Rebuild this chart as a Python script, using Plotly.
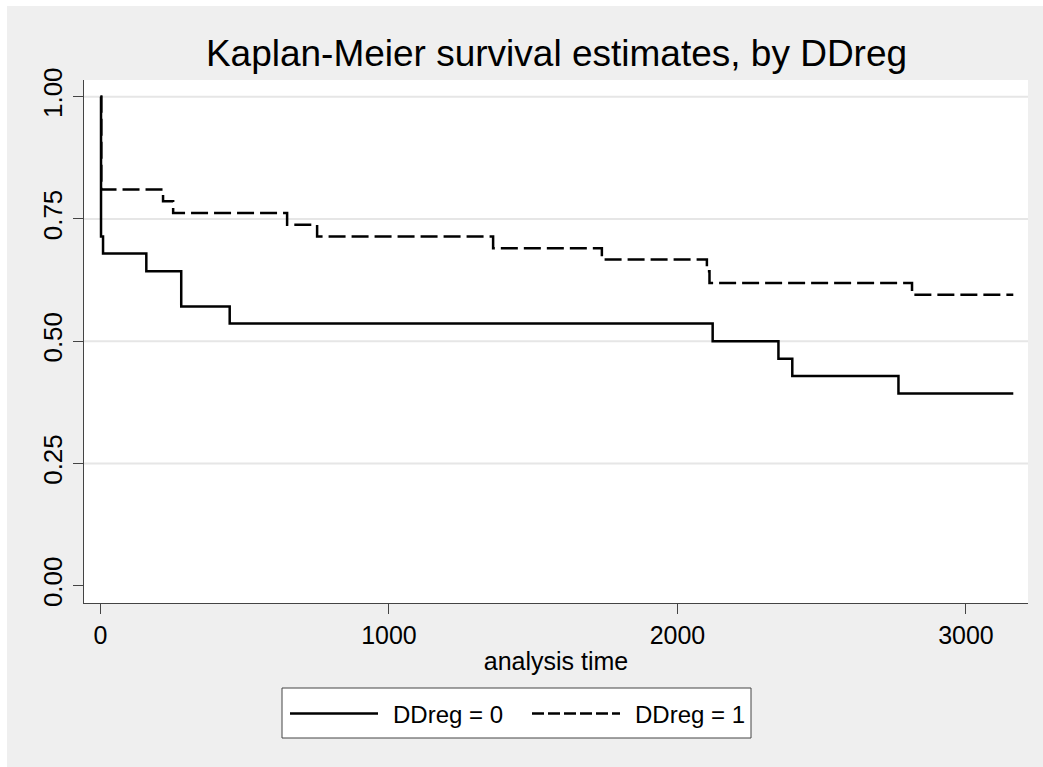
import plotly.graph_objects as go

# ---- data (Kaplan-Meier step estimates) ----
time_dd0 = [0, 2, 9, 159, 280, 448, 2122, 2350, 2398, 2766, 3164]
surv_dd0 = [1.0, 0.714, 0.679, 0.643, 0.571, 0.536, 0.500, 0.464, 0.429, 0.393, 0.393]

time_dd1 = [0, 3, 217, 252, 647, 751, 1361, 1738, 2102, 2111, 2813, 3164]
surv_dd1 = [1.0, 0.810, 0.786, 0.762, 0.738, 0.714, 0.690, 0.667, 0.643, 0.619, 0.595, 0.595]

name_dd0 = "DDreg = 0"
name_dd1 = "DDreg = 1"

y_tickvals = [0, 0.25, 0.5, 0.75, 1.0]
y_ticktext = ["0.00", "0.25", "0.50", "0.75", "1.00"]
y_gridvals = [0.25, 0.5, 0.75, 1.0]
x_tickvals = [0, 1000, 2000, 3000]
x_ticktext = ["0", "1000", "2000", "3000"]

# ---- layout geometry (pixels) ----
W, H = 1043, 767
ML, MR, MT, MB = 84, 15, 80, 164
PW, PH = W - ML - MR, H - MT - MB


def px_x(px):
    return (px - ML) / PW


def px_y(py):
    return (H - MB - py) / PH


FONT = "Liberation Sans, Arial, sans-serif"
BG = "#efefef"
AXC = "#444444"
GRID = "#e6e6e6"

fig = go.Figure()
fig.add_trace(go.Scatter(x=time_dd0, y=surv_dd0, mode="lines", line_shape="hv",
                         name=name_dd0, showlegend=False,
                         line=dict(color="black", width=2.5)))
fig.add_trace(go.Scatter(x=time_dd1, y=surv_dd1, mode="lines", line_shape="hv",
                         name=name_dd1, showlegend=False,
                         line=dict(color="black", width=2.5, dash="17px,6px")))

shapes = [
    # white L-shaped border of the original image
    dict(type="rect", xref="paper", yref="paper", x0=px_x(0), x1=px_x(7),
         y0=px_y(H), y1=px_y(0), fillcolor="white", line=dict(width=0), layer="below"),
    dict(type="rect", xref="paper", yref="paper", x0=px_x(0), x1=px_x(W),
         y0=px_y(6), y1=px_y(0), fillcolor="white", line=dict(width=0), layer="below"),
]
# horizontal gridlines (none at 0.00, as in the reference)
for gv in y_gridvals:
    shapes.append(dict(type="line", xref="paper", yref="y", x0=0, x1=1, y0=gv, y1=gv,
                       line=dict(color=GRID, width=2), layer="below"))
# legend box with long line samples
shapes += [
    dict(type="rect", xref="paper", yref="paper", x0=px_x(282), x1=px_x(751),
         y0=px_y(738), y1=px_y(688), fillcolor="white",
         line=dict(color=AXC, width=1)),
    dict(type="line", xref="paper", yref="paper", x0=px_x(290), x1=px_x(378),
         y0=px_y(713.5), y1=px_y(713.5), line=dict(color="black", width=2.5)),
    dict(type="line", xref="paper", yref="paper", x0=px_x(532), x1=px_x(620),
         y0=px_y(713.5), y1=px_y(713.5), line=dict(color="black", width=2.5, dash="12px,4px")),
]

annotations = [
    dict(text=name_dd0, xref="paper", yref="paper", x=px_x(391), y=px_y(714),
         xanchor="left", yanchor="middle", showarrow=False,
         font=dict(family=FONT, size=24, color="black")),
    dict(text=name_dd1, xref="paper", yref="paper", x=px_x(633), y=px_y(714),
         xanchor="left", yanchor="middle", showarrow=False,
         font=dict(family=FONT, size=24, color="black")),
]

fig.update_layout(
    width=W, height=H,
    margin=dict(l=ML, r=MR, t=MT, b=MB, pad=0),
    paper_bgcolor=BG, plot_bgcolor="white",
    font=dict(family=FONT, color="black"),
    title=dict(text="Kaplan-Meier survival estimates, by DDreg",
               x=px_x(556.5), xref="paper", xanchor="center",
               y=1 - 53 / H, yref="container", yanchor="middle",
               font=dict(family=FONT, size=37, color="black")),
    showlegend=False,
    shapes=shapes,
    annotations=annotations,
    xaxis=dict(range=[-57, 3215], tickvals=x_tickvals, ticktext=x_ticktext,
               showgrid=False, zeroline=False, showline=True, linecolor=AXC, linewidth=1.3,
               ticks="outside", ticklen=10, tickcolor=AXC, tickwidth=1.3,
               tickfont=dict(family=FONT, size=25, color="black"),
               title=dict(text="analysis time", font=dict(family=FONT, size=25, color="black"),
                          standoff=4),
               automargin=False),
    yaxis=dict(range=[-0.0354, 1.034], tickvals=y_tickvals, ticktext=y_ticktext,
               showgrid=False, zeroline=False, showline=True, linecolor=AXC, linewidth=1.3,
               ticks="outside", ticklen=10, tickcolor=AXC, tickwidth=1.3, tickangle=-90,
               tickfont=dict(family=FONT, size=26, color="black"),
               automargin=False),
)

fig.write_html("out.html", config={"displayModeBar": False},
               post_script="document.body.style.margin='0px';")
